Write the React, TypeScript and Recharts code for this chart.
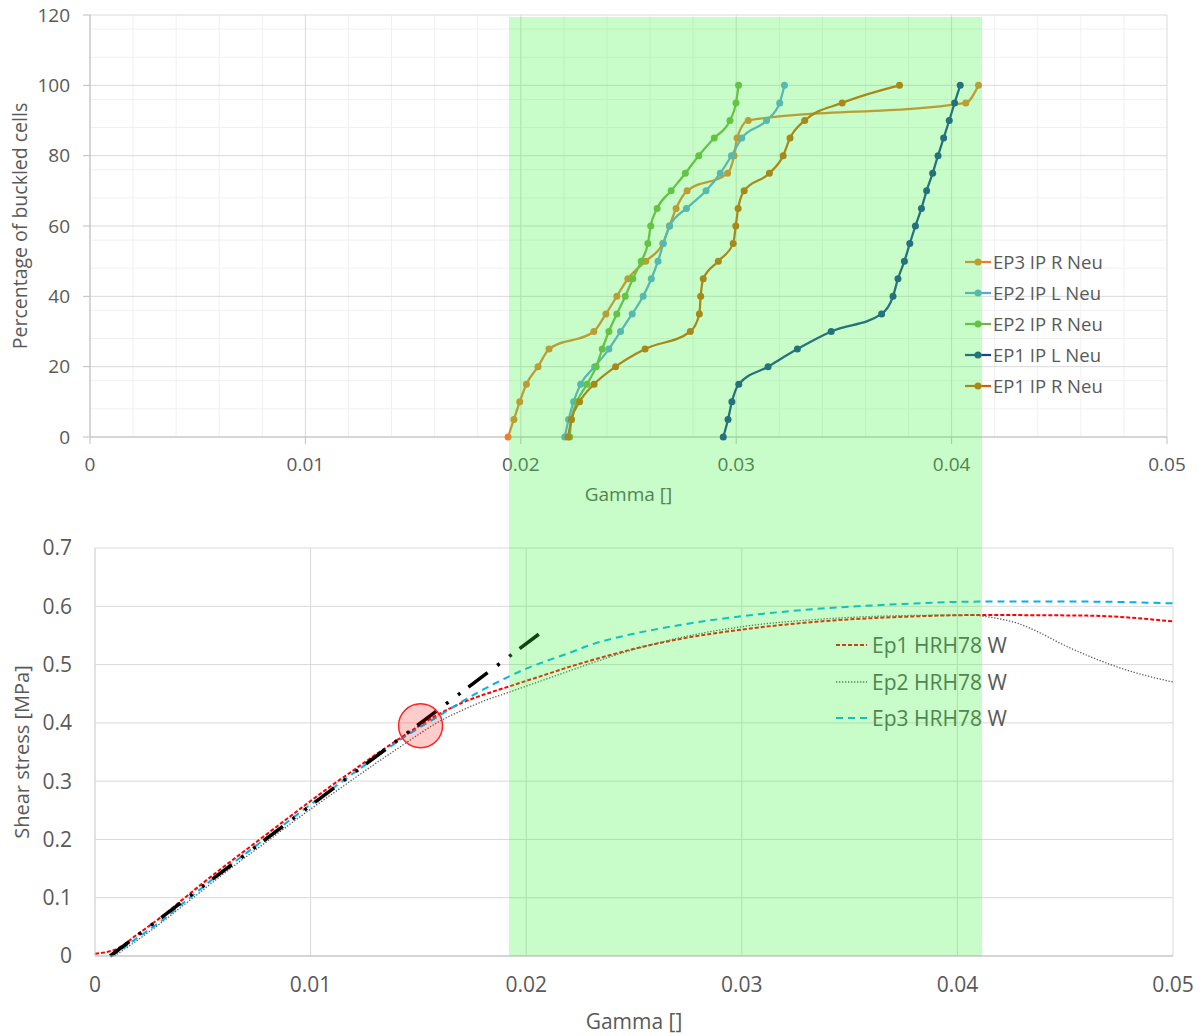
import React from 'react';
import { LineChart, Line, XAxis, YAxis, CartesianGrid, ReferenceDot } from 'recharts';

// ---- top chart: percentage of buckled cells vs gamma ----
const pctLevels = [0, 5, 10, 15, 20, 25, 30, 35, 40, 45, 50, 55, 60, 65, 70, 75, 80, 85, 90, 95, 100];
const ep3RGamma = [0.01941, 0.01968, 0.01995, 0.02026, 0.0208, 0.02131, 0.02339, 0.02395, 0.02446, 0.02497, 0.0258, 0.02659, 0.0269, 0.02721, 0.02772, 0.0296, 0.0299, 0.03004, 0.03056, 0.04066, 0.04125];
const ep2LGamma = [0.02204, 0.02222, 0.02245, 0.02278, 0.02343, 0.02409, 0.02463, 0.02517, 0.02568, 0.02606, 0.02637, 0.02662, 0.02691, 0.02769, 0.0286, 0.02926, 0.02978, 0.03026, 0.03141, 0.03202, 0.03224];
const ep2RGamma = [0.02227, 0.02235, 0.02261, 0.02307, 0.0235, 0.02378, 0.02409, 0.02446, 0.02485, 0.0252, 0.02559, 0.0259, 0.02603, 0.02633, 0.02698, 0.02764, 0.02826, 0.02898, 0.02971, 0.02999, 0.03011];
const ep1LGamma = [0.0294, 0.02962, 0.0298, 0.03012, 0.03148, 0.03284, 0.03441, 0.03675, 0.03728, 0.03751, 0.03781, 0.03806, 0.03832, 0.0386, 0.03884, 0.03912, 0.03937, 0.03963, 0.03989, 0.04014, 0.0404];
const ep1RGamma = [0.02219, 0.02235, 0.02273, 0.0234, 0.0244, 0.02577, 0.02787, 0.02829, 0.02835, 0.02847, 0.02917, 0.02986, 0.02998, 0.03009, 0.03037, 0.03154, 0.03218, 0.0325, 0.03318, 0.03492, 0.03758];

const gammaTicks = [0, 0.01, 0.02, 0.03, 0.04, 0.05];
const gammaMinor = [0.002, 0.004, 0.006, 0.008, 0.012, 0.014, 0.016, 0.018, 0.022, 0.024, 0.026, 0.028, 0.032, 0.034, 0.036, 0.038, 0.042, 0.044, 0.046, 0.048];
const pctTicks = [0, 20, 40, 60, 80, 100, 120];
const pctMinor = [4, 8, 12, 16, 24, 28, 32, 36, 44, 48, 52, 56, 64, 68, 72, 76, 84, 88, 92, 96, 104, 108, 112, 116];

// ---- bottom chart: shear stress vs gamma ----
const ep1Gamma = [0, 0.001, 0.002, 0.003, 0.004, 0.005, 0.006, 0.007, 0.008, 0.009, 0.01, 0.011, 0.012, 0.013, 0.014, 0.015, 0.016, 0.017, 0.018, 0.019, 0.02, 0.021, 0.022, 0.023, 0.025, 0.027, 0.03, 0.0333, 0.0375, 0.041, 0.046, 0.05];
const ep1Stress = [0.004, 0.012, 0.038, 0.065, 0.095, 0.125, 0.154, 0.182, 0.21, 0.238, 0.266, 0.293, 0.319, 0.345, 0.37, 0.394, 0.416, 0.434, 0.448, 0.46, 0.472, 0.484, 0.496, 0.507, 0.527, 0.543, 0.56, 0.573, 0.582, 0.585, 0.584, 0.574];
const ep2Gamma = [0.0009, 0.002, 0.003, 0.004, 0.005, 0.006, 0.007, 0.008, 0.009, 0.01, 0.011, 0.012, 0.013, 0.014, 0.015, 0.016, 0.017, 0.018, 0.019, 0.02, 0.021, 0.022, 0.023, 0.025, 0.027, 0.03, 0.0333, 0.0375, 0.0405, 0.0417, 0.0427, 0.0438, 0.0448, 0.0462, 0.0479, 0.05];
const ep2Stress = [0, 0.028, 0.055, 0.084, 0.113, 0.142, 0.17, 0.197, 0.225, 0.252, 0.278, 0.304, 0.33, 0.355, 0.38, 0.403, 0.421, 0.437, 0.45, 0.463, 0.476, 0.489, 0.502, 0.526, 0.545, 0.565, 0.577, 0.584, 0.585, 0.58, 0.572, 0.555, 0.536, 0.513, 0.49, 0.47];
const ep3Gamma = [0.0008, 0.002, 0.003, 0.004, 0.005, 0.006, 0.007, 0.008, 0.009, 0.01, 0.011, 0.012, 0.013, 0.014, 0.015, 0.016, 0.017, 0.018, 0.019, 0.02, 0.021, 0.022, 0.023, 0.025, 0.027, 0.03, 0.0333, 0.0375, 0.041, 0.046, 0.05];
const ep3Stress = [0, 0.032, 0.058, 0.088, 0.118, 0.148, 0.176, 0.204, 0.232, 0.26, 0.287, 0.314, 0.34, 0.367, 0.391, 0.413, 0.436, 0.457, 0.476, 0.493, 0.507, 0.52, 0.534, 0.553, 0.567, 0.583, 0.595, 0.604, 0.608, 0.608, 0.605];
const fitGamma = [0.0007, 0.0208];
const fitStress = [0, 0.558];
const markGamma = 0.0151;
const markStress = 0.395;
const stressTicks = [0, 0.1, 0.2, 0.3, 0.4, 0.5, 0.6, 0.7];

const toPoints = (xs: number[], ys: number[]) => xs.map((x, i) => ({ x, y: ys[i] }));

const topSeries = [
  { name: 'EP3 IP R Neu', color: '#ED7D31', data: toPoints(ep3RGamma, pctLevels) },
  { name: 'EP2 IP L Neu', color: '#62A3DD', data: toPoints(ep2LGamma, pctLevels) },
  { name: 'EP2 IP R Neu', color: '#74B248', data: toPoints(ep2RGamma, pctLevels) },
  { name: 'EP1 IP L Neu', color: '#1C4296', data: toPoints(ep1LGamma, pctLevels) },
  { name: 'EP1 IP R Neu', color: '#D0600C', data: toPoints(ep1RGamma, pctLevels) },
];

const bottomSeries = [
  { name: 'Ep1 HRH78 W', color: '#FF0000', width: 2, dash: '4 2', data: toPoints(ep1Gamma, ep1Stress) },
  { name: 'Ep2 HRH78 W', color: '#595959', width: 1.3, dash: '1.3 1.7', data: toPoints(ep2Gamma, ep2Stress) },
  { name: 'Ep3 HRH78 W', color: '#00B0F0', width: 2, dash: '7 5', data: toPoints(ep3Gamma, ep3Stress) },
];

const FONT = '"Open Sans", sans-serif';
const TXT = '#595959';
const fmt = (v: number) => String(+v.toFixed(3));

const TopLegend = () => (
  <div style={{ position: 'absolute', left: 965, top: 246, fontFamily: FONT, fontSize: 18.5, color: TXT }}>
    {topSeries.map(s => (
      <div key={s.name} style={{ display: 'flex', alignItems: 'center', height: 31 }}>
        <svg width={26} height={12} style={{ marginRight: 2 }}>
          <line x1={0} y1={6} x2={26} y2={6} stroke={s.color} strokeWidth={2.25} />
          <circle cx={13} cy={6} r={3.5} fill={s.color} />
        </svg>
        <span>{s.name}</span>
      </div>
    ))}
  </div>
);

const BottomLegend = () => (
  <div style={{ position: 'absolute', left: 836, top: 627, fontFamily: FONT, fontSize: 21, color: TXT }}>
    {bottomSeries.map(s => (
      <div key={s.name} style={{ display: 'flex', alignItems: 'center', height: 36.5 }}>
        <svg width={31} height={10} style={{ marginRight: 5 }}>
          <line x1={0} y1={5} x2={31} y2={5} stroke={s.color} strokeWidth={s.width} strokeDasharray={s.dash} />
        </svg>
        <span>{s.name}</span>
      </div>
    ))}
  </div>
);

const BuckledChart = () => (
  <LineChart width={1203} height={520} margin={{ top: 15, right: 36, bottom: 11, left: 30 }}>
    <CartesianGrid stroke="#f0f0f0" horizontalValues={pctMinor} verticalValues={gammaMinor} />
    <CartesianGrid stroke="#d9d9d9" horizontalValues={pctTicks} verticalValues={gammaTicks} />
    <XAxis type="number" dataKey="x" domain={[0, 0.05]} ticks={gammaTicks} tickFormatter={fmt}
      height={72} stroke="#bfbfbf" tickSize={7} tickMargin={14}
      tick={{ fontSize: 19, fill: TXT, fontFamily: FONT }}
      label={{ value: 'Gamma []', position: 'insideBottom', offset: 8, fontSize: 19, fill: TXT, fontFamily: FONT }} />
    <YAxis type="number" dataKey="y" domain={[0, 120]} ticks={pctTicks} width={60}
      stroke="#bfbfbf" tickSize={7} tickMargin={13}
      tick={{ fontSize: 19, fill: TXT, fontFamily: FONT }}
      label={{ value: 'Percentage of buckled cells', angle: -90, position: 'insideLeft', offset: -10, fontSize: 19.5, fill: TXT, fontFamily: FONT, style: { textAnchor: 'middle' } }} />
    {topSeries.map(s => (
      <Line key={s.name} data={s.data} dataKey="y" name={s.name} type="monotone" stroke={s.color} strokeWidth={2.25}
        dot={{ r: 3.5, fill: s.color, stroke: s.color, strokeWidth: 0 }} isAnimationActive={false} />
    ))}
  </LineChart>
);

const StressChart = () => (
  <LineChart width={1203} height={516} margin={{ top: 28, right: 30, bottom: 0, left: 35 }}>
    <CartesianGrid stroke="#d9d9d9" horizontalValues={stressTicks} verticalValues={gammaTicks} />
    <XAxis type="number" dataKey="x" domain={[0, 0.05]} ticks={gammaTicks} tickFormatter={fmt}
      height={80} stroke="#bfbfbf" tickLine={false} tickSize={0} tickMargin={21}
      tick={{ fontSize: 21, fill: TXT, fontFamily: FONT }}
      label={{ value: 'Gamma []', position: 'insideBottom', offset: 7, fontSize: 21, fill: TXT, fontFamily: FONT }} />
    <YAxis type="number" dataKey="y" domain={[0, 0.7]} ticks={stressTicks} tickFormatter={fmt} width={60}
      stroke="#d9d9d9" tickLine={false} tickSize={0} tickMargin={23}
      tick={{ fontSize: 21, fill: TXT, fontFamily: FONT }}
      label={{ value: 'Shear stress [MPa]', angle: -90, position: 'insideLeft', offset: -13, fontSize: 20, fill: TXT, fontFamily: FONT, style: { textAnchor: 'middle' } }} />
    {bottomSeries.map(s => (
      <Line key={s.name} data={s.data} dataKey="y" name={s.name} type="monotone" stroke={s.color} strokeWidth={s.width}
        strokeDasharray={s.dash} dot={false} isAnimationActive={false} />
    ))}
    <Line data={toPoints(fitGamma, fitStress)} dataKey="y" type="linear" stroke="#000" strokeWidth={3.5}
      strokeDasharray="24 12 3 12 3 10" dot={false} isAnimationActive={false} />
    <ReferenceDot x={markGamma} y={markStress} r={22} fill="rgba(255,0,0,0.2)" stroke="#ff2020" strokeWidth={1.5} ifOverflow="visible" />
  </LineChart>
);

export default function App() {
  return (
    <div style={{ position: 'absolute', left: 0, top: 0, width: 1203, height: 1036, background: '#fff', fontFamily: FONT }}>
      <div style={{ position: 'absolute', left: 0, top: 0 }}>
        <BuckledChart />
      </div>
      <div style={{ position: 'absolute', left: 0, top: 520 }}>
        <StressChart />
      </div>
      <TopLegend />
      <BottomLegend />
      <div style={{ position: 'absolute', left: 509, top: 17, width: 473, height: 939, background: 'rgba(58,244,58,0.28)', pointerEvents: 'none' }} />
    </div>
  );
}
